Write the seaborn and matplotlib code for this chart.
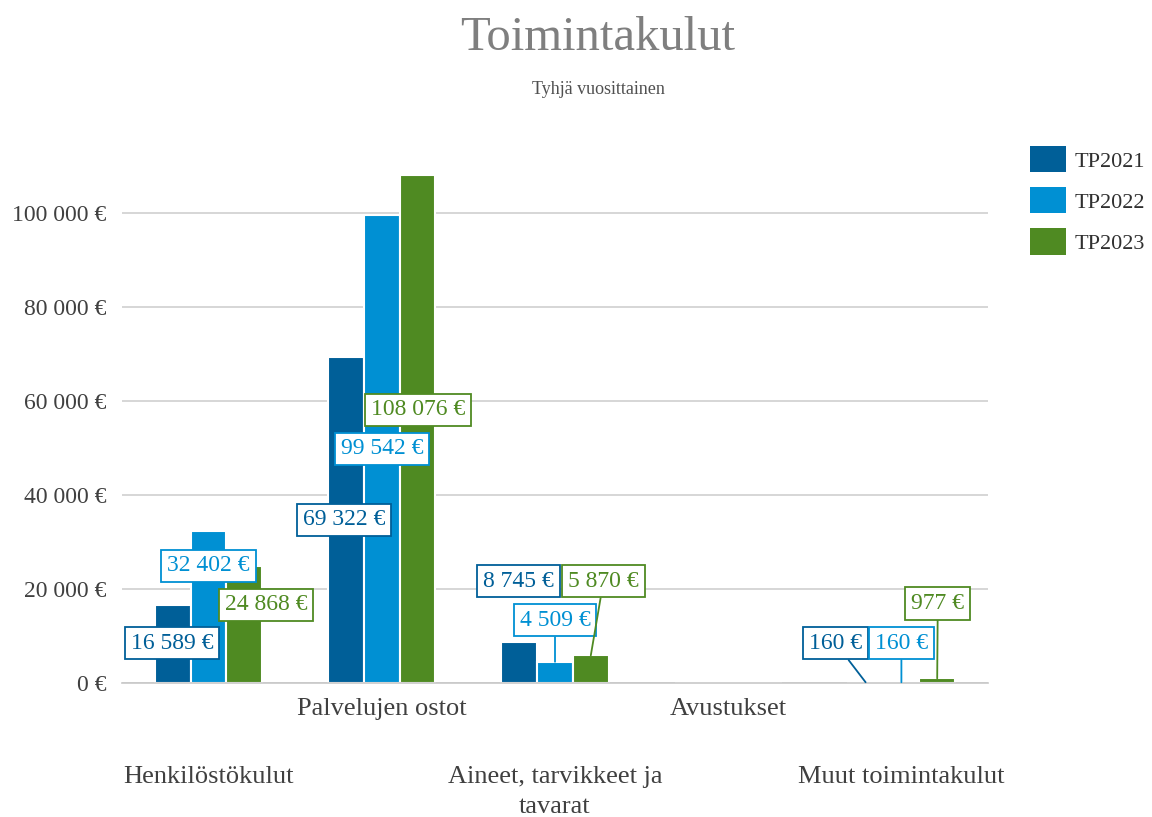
import matplotlib
matplotlib.use("Agg")
import matplotlib.pyplot as plt
import seaborn as sns
import pandas as pd
from matplotlib.patches import Patch
from matplotlib.ticker import FuncFormatter, FixedLocator

# ---- data ----
categories = ["Henkilöstökulut", "Palvelujen ostot", "Aineet, tarvikkeet ja\ntavarat",
              "Avustukset", "Muut toimintakulut"]
series = ["TP2021", "TP2022", "TP2023"]
tp2021 = [16589, 69322, 8745, 0, 160]
tp2022 = [32402, 99542, 4509, 0, 160]
tp2023 = [24868, 108076, 5870, 0, 977]
y_ticks = [0, 20000, 40000, 60000, 80000, 100000]

colors = ["#005f98", "#0090d3", "#4f8a22"]

rows = []
for s, vals in zip(series, [tp2021, tp2022, tp2023]):
    for c, v in zip(categories, vals):
        rows.append({"cat": c, "series": s, "val": v})
df = pd.DataFrame(rows)

sns.set_theme(style="white")
plt.rcParams["font.family"] = ["Liberation Serif", "DejaVu Serif"]

fig = plt.figure(figsize=(11.52, 8.17), dpi=100)
ax = fig.add_axes([122/1152, 1 - 683/817, (988-122)/1152, (683-166)/817])

sns.barplot(data=df, x="cat", y="val", hue="series", palette=colors, width=0.62,
            edgecolor="white", linewidth=1.5, ax=ax, legend=False, errorbar=None,
            order=categories, hue_order=series, saturation=1)

ax.set_ylim(0, 110000)
ax.set_xlim(-0.5, len(categories) - 0.5)
ax.yaxis.set_major_locator(FixedLocator(y_ticks))
ax.yaxis.set_major_formatter(FuncFormatter(lambda v, p: f"{int(v):,}".replace(",", " ") + " €"))
ax.grid(axis="y", color="#d0d0d0", linewidth=1.2)
ax.set_axisbelow(True)
for sp in ["top", "right", "left"]:
    ax.spines[sp].set_visible(False)
ax.spines["bottom"].set_color("#c8c8c8")
ax.spines["bottom"].set_linewidth(1.2)
ax.tick_params(axis="y", length=0, pad=11, labelsize=17, labelcolor="#404040")
ax.set_xlabel("")
ax.set_ylabel("")

# alternating category labels
odd = [i for i in range(len(categories)) if i % 2 == 1]
even = [i for i in range(len(categories)) if i % 2 == 0]
ax.set_xticks(odd, [categories[i] for i in odd])
ax.set_xticks(even, [categories[i] for i in even], minor=True)
ax.tick_params(axis="x", which="major", length=0, pad=11, labelsize=19, labelcolor="#404040")
ax.tick_params(axis="x", which="minor", length=0, pad=60, labelsize=19, labelcolor="#404040")
for lab in ax.get_xticklabels(minor=True):
    lab.set_linespacing(1.45)

# ---- data labels (layout: label offset from category centre, label height) ----
label_layout = {
    (0, 0): (-0.21, 8500), (0, 1): (0.0, 24900), (0, 2): (0.33, 16600),
    (1, 0): (-0.22, 34700), (1, 1): (0.0, 49800), (1, 2): (0.21, 58100),
    (2, 0): (-0.21, 21700), (2, 1): (0.0, 13400), (2, 2): (0.28, 21700),
    (4, 0): (-0.38, 8500), (4, 1): (-0.0, 8500), (4, 2): (0.21, 17000),
}
leader = {(2, 1), (2, 2), (4, 0), (4, 1), (4, 2)}

bars = ax.patches
n = len(categories)
for si, (s, vals) in enumerate(zip(series, [tp2021, tp2022, tp2023])):
    for ci, v in enumerate(vals):
        if v == 0:
            continue
        bar = bars[si * n + ci]
        bx = bar.get_x() + bar.get_width() / 2
        dx, ly = label_layout[(ci, si)]
        txt = f"{v:,}".replace(",", " ") + " €"
        kw = {}
        if (ci, si) in leader:
            kw["arrowprops"] = dict(arrowstyle="-", color=colors[si], lw=1.3,
                                    shrinkA=0, shrinkB=0)
        ax.annotate(txt, xy=(bx, v), xytext=(ci + dx, ly), ha="center", va="center",
                    fontsize=17, color=colors[si], zorder=5,
                    bbox=dict(boxstyle="square,pad=0.25", fc="white", ec=colors[si], lw=1.3),
                    **kw)

# ---- title / subtitle ----
fig.text(598/1152, 1 - 38/817, "Toimintakulut", ha="center", va="center",
         fontsize=35, color="#7f7f7f")
fig.text(598/1152, 1 - 90/817, "Tyhjä vuosittainen", ha="center", va="center",
         fontsize=13, color="#505050")

# ---- legend ----
handles = [Patch(facecolor=c, edgecolor="none") for c in colors]
fig.legend(handles, series, loc="upper left", bbox_to_anchor=(1030/1152, 1 - 146/817),
           frameon=False, fontsize=16, handlelength=1.62, handleheight=1.45,
           labelspacing=0.66, handletextpad=0.4, borderpad=0, borderaxespad=0,
           labelcolor="#303030")

fig.savefig("out.png", dpi=100)
